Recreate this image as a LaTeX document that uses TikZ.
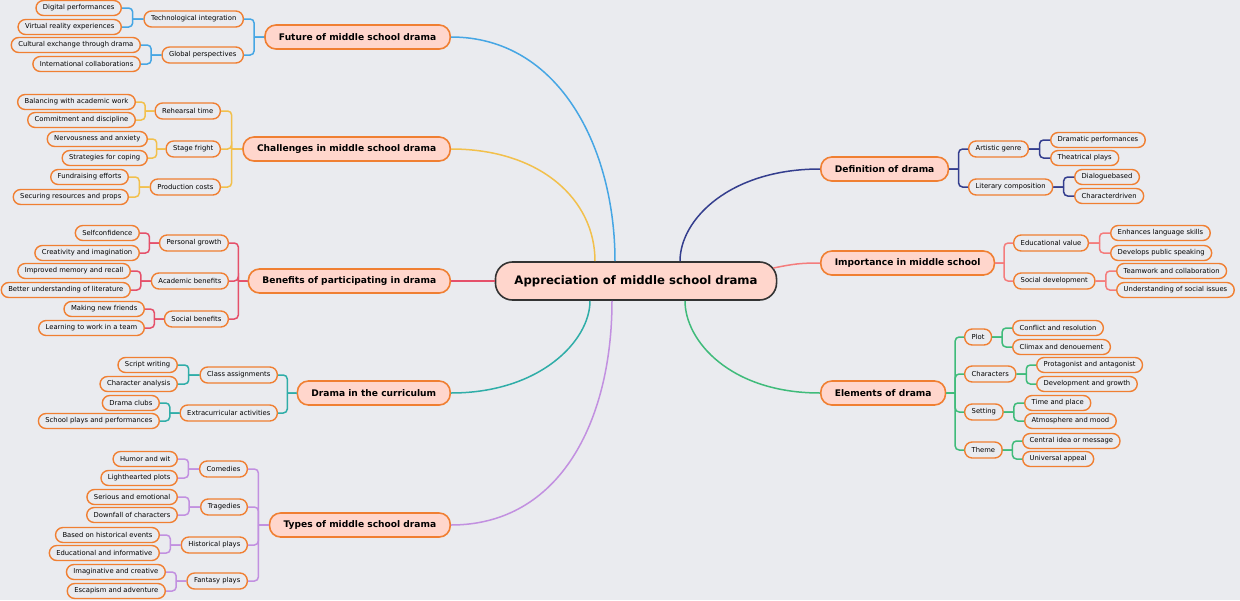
\documentclass[tikz,border=0pt]{standalone}
\usepackage{fontspec}
\setmainfont{DejaVu Sans}
\usepackage{tikz}
\usetikzlibrary{calc}

\definecolor{bgcol}{HTML}{EAEBEF}
\definecolor{topicfill}{HTML}{FFD6CC}
\definecolor{boxline}{HTML}{F07F32}
\definecolor{rootline}{HTML}{333333}
\definecolor{cblue}{HTML}{46A6E4}
\definecolor{cyellow}{HTML}{F2C04C}
\definecolor{cred}{HTML}{E5506A}
\definecolor{cteal}{HTML}{2FADA8}
\definecolor{cpurple}{HTML}{C290E0}
\definecolor{cnavy}{HTML}{343E8E}
\definecolor{csalmon}{HTML}{F47C7C}
\definecolor{cgreen}{HTML}{3FBB7A}

\tikzset{
  rootnode/.style={draw=rootline, fill=topicfill, line width=1.6pt, rounded corners=17pt,
    minimum height=38pt, inner ysep=0pt, inner xsep=19pt, font=\fontsize{11.7}{14}\selectfont\bfseries},
  topic/.style={draw=boxline, fill=topicfill, line width=1.6pt, rounded corners=11pt,
    minimum height=24pt, inner ysep=0pt, inner xsep=14pt, font=\fontsize{9.1}{11}\selectfont\bfseries},
  subtopic/.style={draw=boxline, fill=bgcol, line width=1.4pt, rounded corners=7.5pt,
    minimum height=16pt, inner ysep=0pt, inner xsep=7pt, font=\fontsize{6.8}{8}\selectfont},
  leaf/.style={subtopic, minimum height=15pt},
  link/.style={line width=1.5pt},
  elbow/.style={to path={-- ($(\tikztostart)!.5!(\tikztostart -| \tikztotarget)$)
    ($(\tikztostart)!.5!(\tikztostart -| \tikztotarget)$) |- (\tikztotarget)}},
}

\begin{document}
\begin{tikzpicture}[x=1pt, y=-1pt]
			%%%%% START %%%%%
			
			\fill[bgcol] (0, 0) rectangle (1240, 600);
			\useasboundingbox (0, 0) rectangle (1240, 600);
			
			\node[rootnode] (root) at (636, 281) {Appreciation of middle school drama};
			
			% left topics
			\node[topic, anchor=east] (fut) at (451, 37) {Future of middle school drama};
			\node[topic, anchor=east] (chal) at (451, 149) {Challenges in middle school drama};
			\node[topic, anchor=east] (ben) at (451, 281) {Benefits of participating in drama};
			\node[topic, anchor=east] (cur) at (451, 393) {Drama in the curriculum};
			\node[topic, anchor=east] (typ) at (451, 525) {Types of middle school drama};
			
			% right topics
			\node[topic, anchor=west] (def) at (820, 169) {Definition of drama};
			\node[topic, anchor=west] (imp) at (820, 263) {Importance in middle school};
			\node[topic, anchor=west] (ele) at (820, 393) {Elements of drama};
			
			\draw[link, cblue] ([xshift=-21pt]root.north) .. controls +(0, -112) and +(109, 0) .. (fut.east);
			\draw[link, cyellow] ([xshift=-41pt]root.north) .. controls +(0, -62) and +(89, 0) .. (chal.east);
			\draw[link, cred] (root.west) -- (ben.east);
			\draw[link, cteal] ([xshift=-46pt]root.south) .. controls +(0, 40) and +(89, 0) .. (cur.east);
			\draw[link, cpurple] ([xshift=-24pt]root.south) .. controls +(0, 120) and +(109, 0) .. (typ.east);
			\draw[link, cnavy] ([xshift=44pt]root.north) .. controls +(0, -42) and +(-90, 0) .. (def.west);
			\draw[link, csalmon] ([xshift=-4pt, yshift=13pt]root.east) .. controls +(20, -4) and +(-20, 0) .. (imp.west);
			\draw[link, cgreen] ([xshift=49pt]root.south) .. controls +(0, 40) and +(-90, 0) .. (ele.west);
			
			% future
			\node[subtopic, anchor=east] (futA) at (244, 19) {Technological integration};
			\node[subtopic, anchor=east] (futB) at (244, 55) {Global perspectives};
			\node[leaf, anchor=east] (futA1) at (122, 8) {Digital performances};
			\node[leaf, anchor=east] (futA2) at (122, 27) {Virtual reality experiences};
			\node[leaf, anchor=east] (futB1) at (141, 45) {Cultural exchange through drama};
			\node[leaf, anchor=east] (futB2) at (141, 64) {International collaborations};
			
			% challenges
			\node[subtopic, anchor=east] (chalA) at (221, 111) {Rehearsal time};
			\node[subtopic, anchor=east] (chalB) at (221, 149) {Stage fright};
			\node[subtopic, anchor=east] (chalC) at (221, 187) {Production costs};
			\node[leaf, anchor=east] (chalA1) at (136, 102) {Balancing with academic work};
			\node[leaf, anchor=east] (chalA2) at (136, 120) {Commitment and discipline};
			\node[leaf, anchor=east] (chalB1) at (148, 139) {Nervousness and anxiety};
			\node[leaf, anchor=east] (chalB2) at (148, 158) {Strategies for coping};
			\node[leaf, anchor=east] (chalC1) at (129, 177) {Fundraising efforts};
			\node[leaf, anchor=east] (chalC2) at (129, 197) {Securing resources and props};
			
			% benefits
			\node[subtopic, anchor=east] (benA) at (229, 243) {Personal growth};
			\node[subtopic, anchor=east] (benB) at (229, 281) {Academic benefits};
			\node[subtopic, anchor=east] (benC) at (229, 319) {Social benefits};
			\node[leaf, anchor=east] (benA1) at (140, 233) {Selfconfidence};
			\node[leaf, anchor=east] (benA2) at (140, 253) {Creativity and imagination};
			\node[leaf, anchor=east] (benB1) at (131, 271) {Improved memory and recall};
			\node[leaf, anchor=east] (benB2) at (131, 290) {Better understanding of literature};
			\node[leaf, anchor=east] (benC1) at (145, 309) {Making new friends};
			\node[leaf, anchor=east] (benC2) at (145, 328) {Learning to work in a team};
			
			% curriculum
			\node[subtopic, anchor=east] (curA) at (278, 375) {Class assignments};
			\node[subtopic, anchor=east] (curB) at (278, 413) {Extracurricular activities};
			\node[leaf, anchor=east] (curA1) at (178, 365) {Script writing};
			\node[leaf, anchor=east] (curA2) at (178, 384) {Character analysis};
			\node[leaf, anchor=east] (curB1) at (160, 403) {Drama clubs};
			\node[leaf, anchor=east] (curB2) at (160, 421) {School plays and performances};
			
			% types
			\node[subtopic, anchor=east] (typA) at (248, 469) {Comedies};
			\node[subtopic, anchor=east] (typB) at (248, 507) {Tragedies};
			\node[subtopic, anchor=east] (typC) at (248, 545) {Historical plays};
			\node[subtopic, anchor=east] (typD) at (248, 581) {Fantasy plays};
			\node[leaf, anchor=east] (typA1) at (178, 459) {Humor and wit};
			\node[leaf, anchor=east] (typA2) at (178, 478) {Lighthearted plots};
			\node[leaf, anchor=east] (typB1) at (178, 497) {Serious and emotional};
			\node[leaf, anchor=east] (typB2) at (178, 515) {Downfall of characters};
			\node[leaf, anchor=east] (typC1) at (160, 535) {Based on historical events};
			\node[leaf, anchor=east] (typC2) at (160, 553) {Educational and informative};
			\node[leaf, anchor=east] (typD1) at (166, 572) {Imaginative and creative};
			\node[leaf, anchor=east] (typD2) at (166, 591) {Escapism and adventure};
			
			% definition
			\node[subtopic, anchor=west] (defA) at (968, 149) {Artistic genre};
			\node[subtopic, anchor=west] (defB) at (968, 187) {Literary composition};
			\node[leaf, anchor=west] (defA1) at (1050, 140) {Dramatic performances};
			\node[leaf, anchor=west] (defA2) at (1050, 158) {Theatrical plays};
			\node[leaf, anchor=west] (defB1) at (1074, 177) {Dialoguebased};
			\node[leaf, anchor=west] (defB2) at (1074, 196) {Characterdriven};
			
			% importance
			\node[subtopic, anchor=west] (impA) at (1013, 243) {Educational value};
			\node[subtopic, anchor=west] (impB) at (1013, 281) {Social development};
			\node[leaf, anchor=west] (impA1) at (1110, 233) {Enhances language skills};
			\node[leaf, anchor=west] (impA2) at (1110, 253) {Develops public speaking};
			\node[leaf, anchor=west] (impB1) at (1116, 271) {Teamwork and collaboration};
			\node[leaf, anchor=west] (impB2) at (1116, 290) {Understanding of social issues};
			
			% elements
			\node[subtopic, anchor=west] (eleA) at (964, 337) {Plot};
			\node[subtopic, anchor=west] (eleB) at (964, 374) {Characters};
			\node[subtopic, anchor=west] (eleC) at (964, 412) {Setting};
			\node[subtopic, anchor=west] (eleD) at (964, 450) {Theme};
			\node[leaf, anchor=west] (eleA1) at (1012, 328) {Conflict and resolution};
			\node[leaf, anchor=west] (eleA2) at (1012, 347) {Climax and denouement};
			\node[leaf, anchor=west] (eleB1) at (1036, 365) {Protagonist and antagonist};
			\node[leaf, anchor=west] (eleB2) at (1036, 384) {Development and growth};
			\node[leaf, anchor=west] (eleC1) at (1024, 403) {Time and place};
			\node[leaf, anchor=west] (eleC2) at (1024, 421) {Atmosphere and mood};
			\node[leaf, anchor=west] (eleD1) at (1022, 441) {Central idea or message};
			\node[leaf, anchor=west] (eleD2) at (1022, 459) {Universal appeal};
			
			% brackets, left side
			\foreach \t/\c/\subs in {fut/cblue/{A,B}, chal/cyellow/{A,B,C}, ben/cred/{A,B,C}, cur/cteal/{A,B}, typ/cpurple/{A,B,C,D}} {
				\foreach \s in \subs {
					\draw[link, \c, rounded corners=4pt] (\t.west) to[elbow] (\t\s.east);
					\draw[link, \c, rounded corners=4pt] (\t\s.west) to[elbow] (\t\s1.east);
					\draw[link, \c, rounded corners=4pt] (\t\s.west) to[elbow] (\t\s2.east);
				}
			}
			
			% brackets, right side
			\foreach \t/\c/\subs in {def/cnavy/{A,B}, imp/csalmon/{A,B}, ele/cgreen/{A,B,C,D}} {
				\foreach \s in \subs {
					\draw[link, \c, rounded corners=4pt] (\t.east) to[elbow] (\t\s.west);
					\draw[link, \c, rounded corners=4pt] (\t\s.east) to[elbow] (\t\s1.west);
					\draw[link, \c, rounded corners=4pt] (\t\s.east) to[elbow] (\t\s2.west);
				}
			}
			
			%%%%% END %%%%%
\end{tikzpicture}
\end{document}
